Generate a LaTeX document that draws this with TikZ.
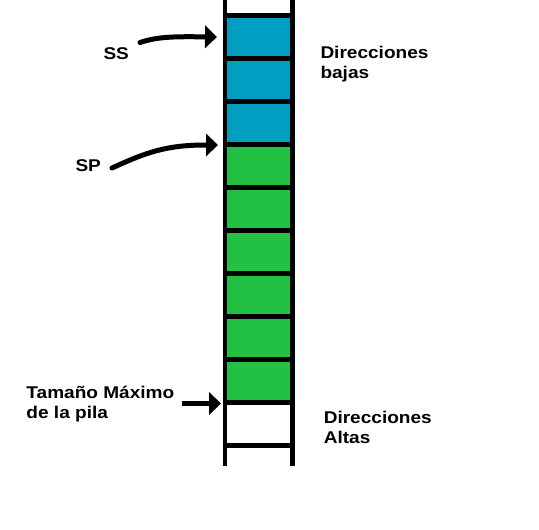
\documentclass[tikz,border=0pt]{standalone}
\usepackage{fontspec}
\setmainfont{Liberation Sans}[FakeStretch=1.12]
\usetikzlibrary{arrows.meta}
\definecolor{cellblue}{RGB}{0,159,193}
\definecolor{cellgreen}{RGB}{34,193,67}
\tikzset{
  cell/.style={draw=black, line width=4.6pt, minimum width=67.3pt, minimum height=43pt, inner sep=0pt, outer sep=0pt},
  bar/.style={draw=black, line width=4.6pt},
  lbl/.style={inner sep=0pt, outer sep=0pt, anchor=north west, align=left, font=\fontsize{17}{19.3}\selectfont\bfseries},
  pointer/.style={draw=black, line width=5pt, line cap=round, -{Triangle[length=12pt,width=23pt,line width=0pt]}},
}
\begin{document}
\begin{tikzpicture}[x=1pt,y=-1pt]
\useasboundingbox (0,0) rectangle (539,530);
% cells
\foreach \i/\c in {1/cellblue,2/cellblue,3/cellblue,4/cellgreen,5/cellgreen,6/cellgreen,7/cellgreen,8/cellgreen,9/cellgreen,10/white}{
  \node[cell, fill=\c] (c\i) at (258.65, {37+43*(\i-1)}) {};
}
% vertical bars
\draw[bar] (225,-3) -- (225,466);
\draw[bar] (292.3,-3) -- (292.3,466);
% labels
\node[lbl] (ss) at (103.5,47.5) {SS};
\node[lbl] (sp) at (75.5,160) {SP};
\node[lbl] (tam) at (26.5,386.5) {Tamaño Máximo\\de la pila};
\node[lbl] (bajas) at (320.5,46.5) {Direcciones\\bajas};
\node[lbl] (altas) at (323.8,411.5) {Direcciones\\Altas};
% arrow coordinates
\coordinate (ssTail) at (140,42.5);
\coordinate (ssTip) at (217,37);
\coordinate (spTail) at (112,168);
\coordinate (spTip) at (218,145);
\coordinate (tamTail) at (182,403.5);
\coordinate (tamTip) at (221,403.5);
\draw[pointer] (ssTail) .. controls (158,36.5) and (175,36.5) .. (ssTip);
\draw[pointer] (spTail) .. controls (145,153) and (165,145) .. (spTip);
\draw[pointer, line cap=butt] (tamTail) -- (tamTip);
\end{tikzpicture}
\end{document}
